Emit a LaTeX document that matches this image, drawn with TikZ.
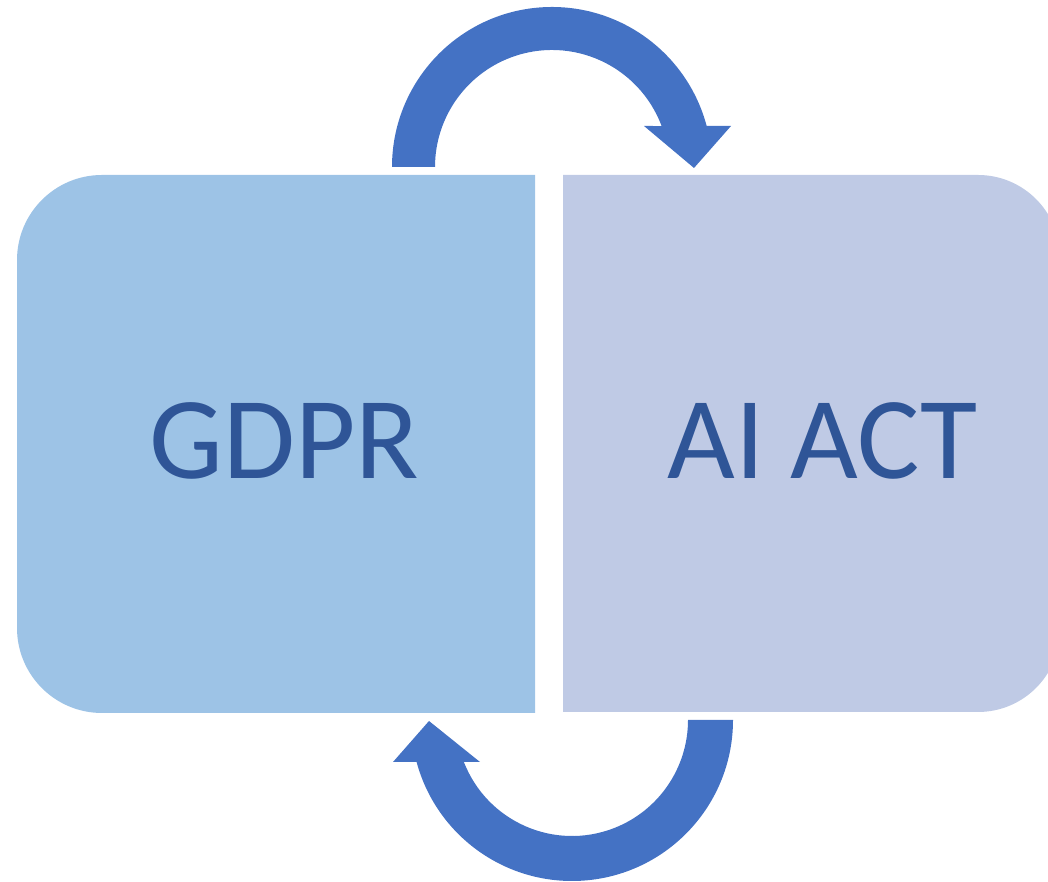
\documentclass[tikz,border=0pt]{standalone}
\usepackage{fontspec}
\setmainfont{Carlito}
\usetikzlibrary{calc}
\definecolor{arrowblue}{HTML}{4472C4}
\definecolor{gdprfill}{HTML}{9DC3E6}
\definecolor{actfill}{HTML}{BFCAE5}
\definecolor{labelblue}{HTML}{2F5597}
\begin{document}
\begin{tikzpicture}[x=1pt,y=1pt,
  label text/.style={anchor=base, inner sep=0pt, text=labelblue,
    font=\fontsize{117}{140}\selectfont},
  cycle arrow/.style={fill=arrowblue, draw=none}]
\useasboundingbox (0,0) rectangle (1048,882);
\clip (0,0) rectangle (1048,882);

% GDPR panel, rounded on the left
\fill[gdprfill] (535,707) [rounded corners=85] -- (17,707) -- (17,169)
  [sharp corners] -- (535,169) -- cycle;
% AI ACT panel, rounded on the right (runs past the edge)
\fill[actfill] (563,707) [rounded corners=82] -- (1060,707) -- (1060,170)
  [sharp corners] -- (563,170) -- cycle;

\node[label text] (gdpr) at (284.5,403) {GDPR};
\node[label text] (aiact) at (822.5,403) {AI ACT};

% upper curved arrow: GDPR -> AI ACT
\coordinate (topc) at (552,715);
\fill[cycle arrow] ($(topc)+(180:160)$) arc[start angle=180, end angle=14.85, radius=160]
  -- (731,756) -- (694,714) -- (644,756)
  -- ($(topc)+(20.5:117)$) arc[start angle=20.5, end angle=180, radius=117] -- cycle;

% lower curved arrow: AI ACT -> GDPR
\coordinate (botc) at (572,162);
\fill[cycle arrow] ($(botc)+(0:161)$) arc[start angle=0, end angle=-164.9, radius=161]
  -- (393,120) -- (429,161) -- (480,120)
  -- ($(botc)+(-158.8:116)$) arc[start angle=-158.8, end angle=0, radius=116] -- cycle;
\end{tikzpicture}
\end{document}
